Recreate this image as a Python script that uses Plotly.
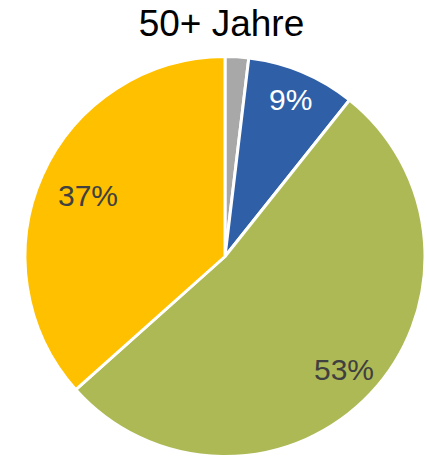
import math
import plotly.graph_objects as go

categories = ["Sonstige", "Gruppe A", "Gruppe B", "Gruppe C"]
shares = [1.9, 8.8, 52.7, 36.6]
show_label = [False, True, True, True]
colors = ["#A8A8A8", "#2F5FA7", "#ADB955", "#FFC000"]
text_colors = ["#404040", "#FFFFFF", "#404040", "#404040"]
label_radius = [0.0, 0.85, 0.82, 0.75]   # radial placement of each label (fraction of radius)

FONT = "Liberation Sans, Arial, sans-serif"
W, H = 427, 458
ML, MR, MT, MB = 25, 2, 56, 1
PW, PH = W - ML - MR, H - MT - MB

fig = go.Figure(go.Pie(
    labels=categories,
    values=shares,
    sort=False,
    direction="clockwise",
    rotation=0,
    marker=dict(colors=colors, line=dict(color="white", width=3)),
    textinfo="none",
    hoverinfo="label+percent",
    showlegend=False,
))

# data labels placed along each slice's mid-angle (derived from the shares)
total = sum(shares)
radius = min(PW, PH) / 2
cum = 0.0
for cat, v, show, tc, lr in zip(categories, shares, show_label, text_colors, label_radius):
    mid = (cum + v / 2) / total * 2 * math.pi
    cum += v
    if not show:
        continue
    r = lr * radius
    fig.add_annotation(
        x=0.5 + r * math.sin(mid) / PW,
        y=0.5 + r * math.cos(mid) / PH,
        xref="paper", yref="paper",
        text=f"{round(v / total * 100)}%",
        showarrow=False,
        font=dict(family=FONT, size=30, color=tc),
        xanchor="center", yanchor="middle",
    )

fig.update_layout(
    width=W, height=H,
    margin=dict(l=ML, r=MR, t=MT, b=MB),
    paper_bgcolor="white",
    title=dict(text="50+ Jahre", x=0.5187, xanchor="center", y=0.978, yanchor="top",
               font=dict(family=FONT, size=37, color="#000000")),
)

fig.write_html("out.html", config={"displayModeBar": False},
               post_script="document.body.style.margin='0';")
